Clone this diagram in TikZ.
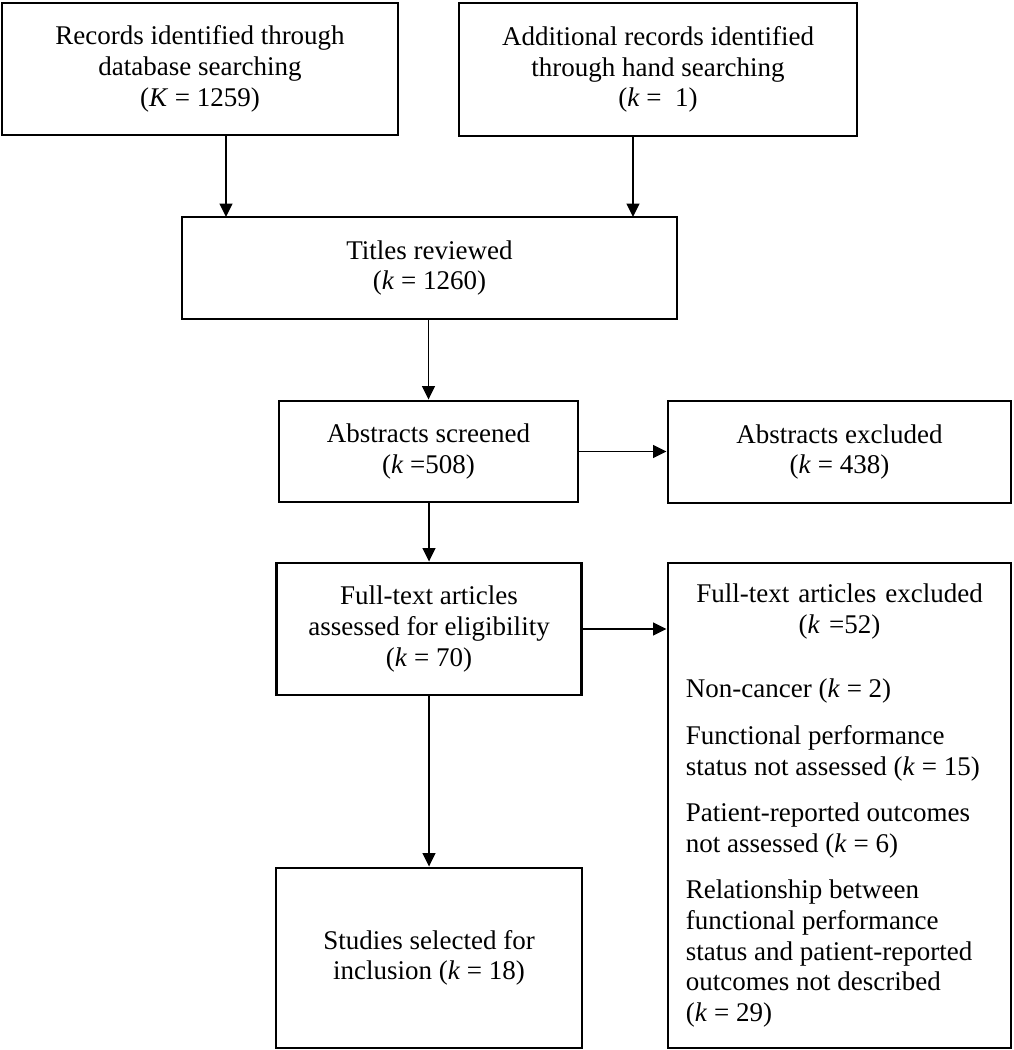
\documentclass[tikz,border=0pt]{standalone}
\usepackage{fontspec}
\setmainfont{Liberation Serif}
\usepackage{tikz}
\usetikzlibrary{positioning,calc,arrows.meta}
\tikzset{
  flowbox/.style={draw, line width=2pt, align=center, inner sep=4pt,
    font=\fontsize{19.2}{21.8}\selectfont},
  flowarrow/.style={line width=1.3pt, -{Triangle[length=9.5pt,width=9pt]}}
}

\begin{document}
\begin{tikzpicture}[x=0.025cm, y=-0.025cm]
    \useasboundingbox (0,0) rectangle (1013,1050);

    % Identification
    \node [flowbox, minimum width=9.9cm, minimum height=3.3cm] (records) at (200,69)
      {Records identified through\\database searching\\(\textit{K} = 1259)};
    \node [flowbox, minimum width=9.95cm, minimum height=3.325cm] (additional) at (658,69.5)
      {Additional records identified\\through hand searching\\(\textit{k} = \ 1)};

    % Screening
    \node [flowbox, minimum width=12.375cm, minimum height=2.55cm] (titles) at (429.5,268)
      {Titles reviewed\\(\textit{k} = 1260)};
    \node [flowbox, minimum width=7.475cm, minimum height=2.525cm] (abstracts) at (428.5,451.5)
      {Abstracts screened\\(\textit{k} =508)};
    \node [flowbox, minimum width=8.575cm, minimum height=2.55cm] (absexcl) at (839.5,452)
      {Abstracts excluded\\(\textit{k} = 438)};

    % Eligibility
    \node [flowbox, minimum width=7.625cm, minimum height=3.3cm] (fulltext) at (429,629)
      {Full-text articles\\assessed for eligibility\\(\textit{k} = 70)};
    \node [flowbox, align=left, text width=7.675cm, minimum width=8.575cm, minimum height=12.125cm] (fullexcl) at (839.5,805.5)
      {{\centering Full-text articles excluded\\(\textit{k} =52)\par}
       \vspace{0.85cm}
       \leftskip=0pt \rightskip=0pt plus 1fil \spaceskip=0pt \xspaceskip=0pt
       Non-cancer (\textit{k} = 2)\par\vspace{0.4cm}
       Functional performance\\status not assessed (\textit{k} = 15)\par\vspace{0.4cm}
       Patient-reported outcomes\\not assessed (\textit{k} = 6)\par\vspace{0.4cm}
       Relationship between\\functional performance\\status and patient-reported\\outcomes not described\\(\textit{k} = 29)\par};

    % Included
    \node [flowbox, minimum width=7.65cm, minimum height=4.5cm] (studies) at (429,958)
      {Studies selected for\\inclusion (\textit{k} = 18)};

    % Arrow ends on the titles box
    \coordinate (inleft) at (226,217);
    \coordinate (inright) at (633,217);

    % Arrows
    \draw [flowarrow] (records.south -| inleft) -- (inleft);
    \draw [flowarrow] (additional.south -| inright) -- (inright);
    \draw [flowarrow] (titles.south -| abstracts) -- (abstracts.north);
    \draw [flowarrow] (abstracts.east) -- (abstracts.east -| absexcl.west);
    \draw [flowarrow] (abstracts.south -| fulltext) -- (fulltext.north);
    \draw [flowarrow] (fulltext.east) -- (fulltext.east -| fullexcl.west);
    \draw [flowarrow] (fulltext.south) -- (studies.north);

\end{tikzpicture}
\end{document}
